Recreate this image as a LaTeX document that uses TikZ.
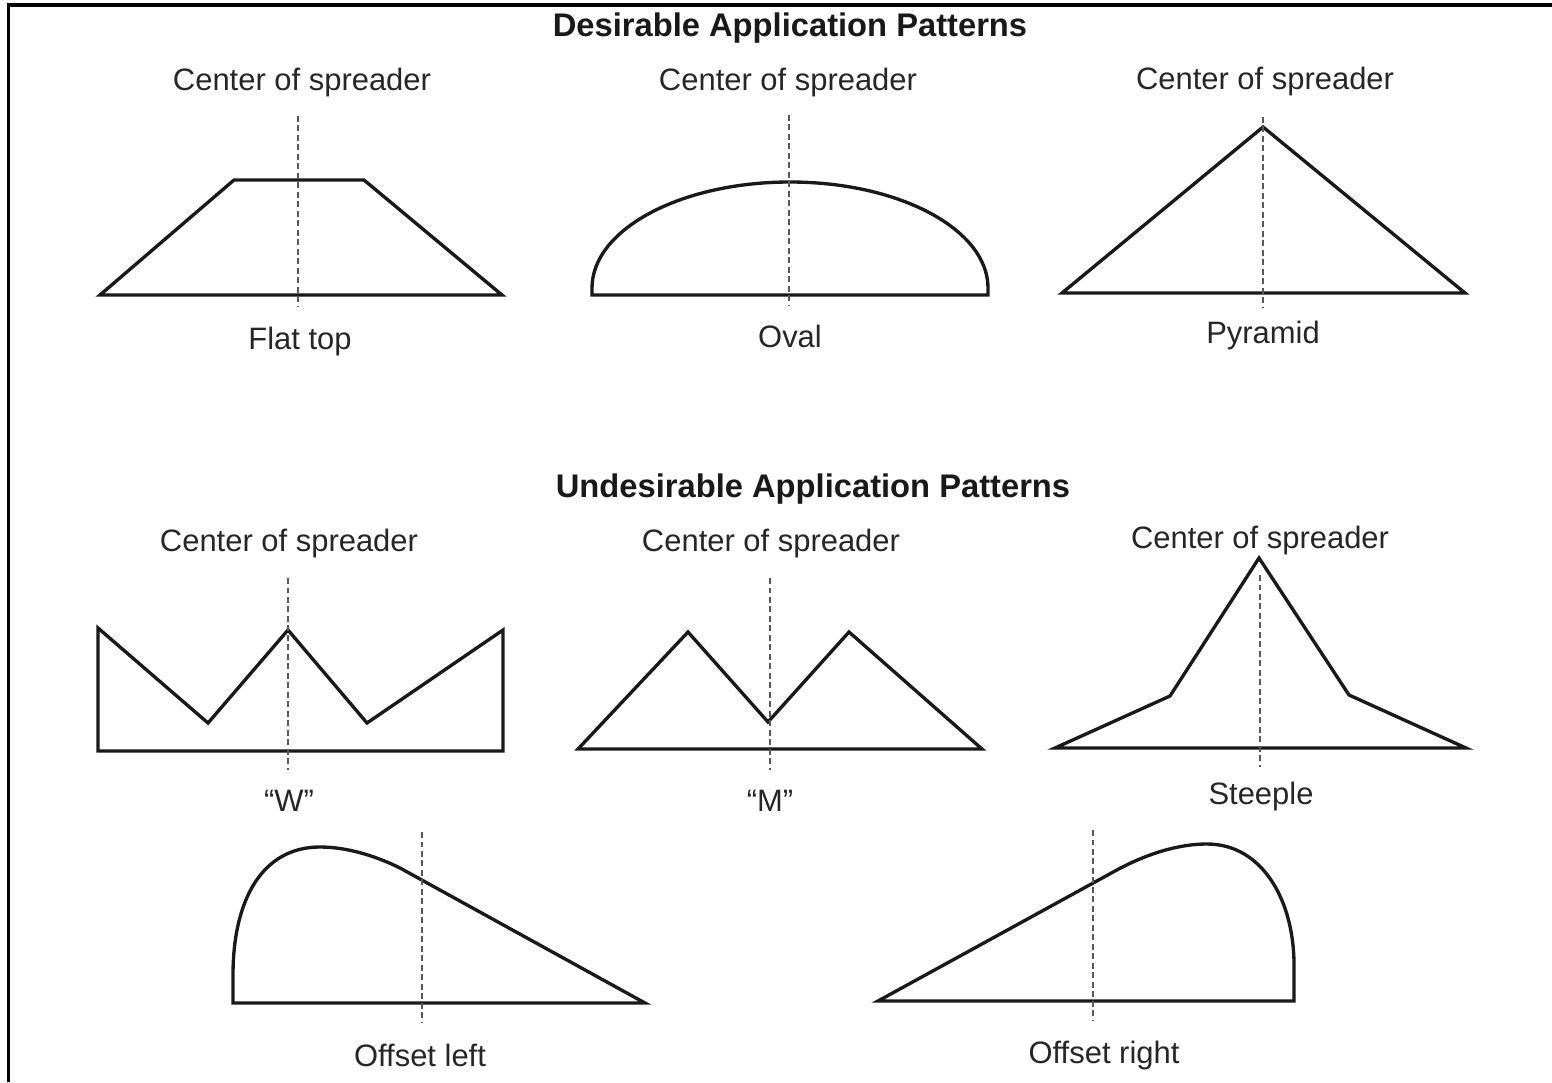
\documentclass[tikz,border=0pt]{standalone}
\usepackage{fontspec}
\setmainfont{Liberation Sans}

\begin{document}
\begin{tikzpicture}[x=0.01cm,y=-0.01cm,
  profile/.style={line width=0.95pt,line join=miter,black!90},
  centre/.style={line width=0.55pt,black!65,dash pattern=on 1.6pt off 1.1pt},
  lab/.style={font=\fontsize{8.8}{10}\selectfont,text=black!85,inner sep=0pt,yshift=-0.03cm},
  head/.style={font=\fontsize{9.3}{11}\selectfont\bfseries,text=black!90,inner sep=0pt,yshift=-0.03cm}]

\useasboundingbox (0,0) rectangle (1552,1082);

% frame
\draw[line width=0.9pt] (8.5,1082) -- (8.5,5) -- (1552,5);

% headings
\node[head] (desirable) at (790,25) {Desirable Application Patterns};
\node[head] (undesirable) at (813,486) {Undesirable Application Patterns};

% flat top
\node[lab] (cflat) at (302,80) {Center of spreader};
\draw[profile] (100,295) -- (234,180) -- (364,180) -- (502,295) -- cycle;
\draw[centre] (298,116) -- (298,306);
\node[lab] (flat) at (300,338) {Flat top};

% oval
\node[lab] (coval) at (788,80) {Center of spreader};
\draw[profile] (592,295) -- (592,288) arc[start angle=180, end angle=0, x radius=198, y radius=-106] -- (988,295) -- cycle;
\draw[centre] (789,115) -- (789,305);
\node[lab] (oval) at (790,333) {Oval};

% pyramid
\node[lab] (cpyr) at (1265,78) {Center of spreader};
\draw[profile] (1062,293) -- (1263,127) -- (1465,293) -- cycle;
\draw[centre] (1263,117) -- (1263,307);
\node[lab] (pyr) at (1263,332) {Pyramid};

% W
\node[lab] (cw) at (289,540) {Center of spreader};
\draw[profile] (98,751) -- (98,628) -- (208,723) -- (288,630) -- (367,723) -- (503,630) -- (503,751) -- cycle;
\draw[centre] (288,578) -- (288,770);
\node[lab] (w) at (289,798) {“W”};

% M
\node[lab] (cm) at (771,540) {Center of spreader};
\draw[profile] (578,749) -- (688,632) -- (768,722) -- (849,632) -- (982,749) -- cycle;
\draw[centre] (770,578) -- (770,770);
\node[lab] (m) at (770,798) {“M”};

% steeple
\node[lab] (cst) at (1260,537) {Center of spreader};
\draw[profile] (1055,748) -- (1170,696) -- (1259,558) -- (1349,695) -- (1466,748) -- cycle;
\draw[centre] (1260,575) -- (1260,767);
\node[lab] (st) at (1261,793) {Steeple};

% offset left
\draw[profile] (233,1003) -- (233,975) .. controls (233,900) and (262,847) .. (320,847)
  .. controls (350,847) and (380,858) .. (400,868) -- (645,1003) -- cycle;
\draw[centre] (422,832) -- (422,1022);
\node[lab] (offl) at (420,1052) {Offset left};

% offset right
\draw[profile] (878,1001) -- (1115,871) .. controls (1135,860) and (1170,844) .. (1207,844)
  .. controls (1262,844) and (1294,900) .. (1294,965) -- (1294,1001) -- cycle;
\draw[centre] (1093,830) -- (1093,1020);
\node[lab] (offr) at (1104,1052) {Offset right};

\end{tikzpicture}
\end{document}
